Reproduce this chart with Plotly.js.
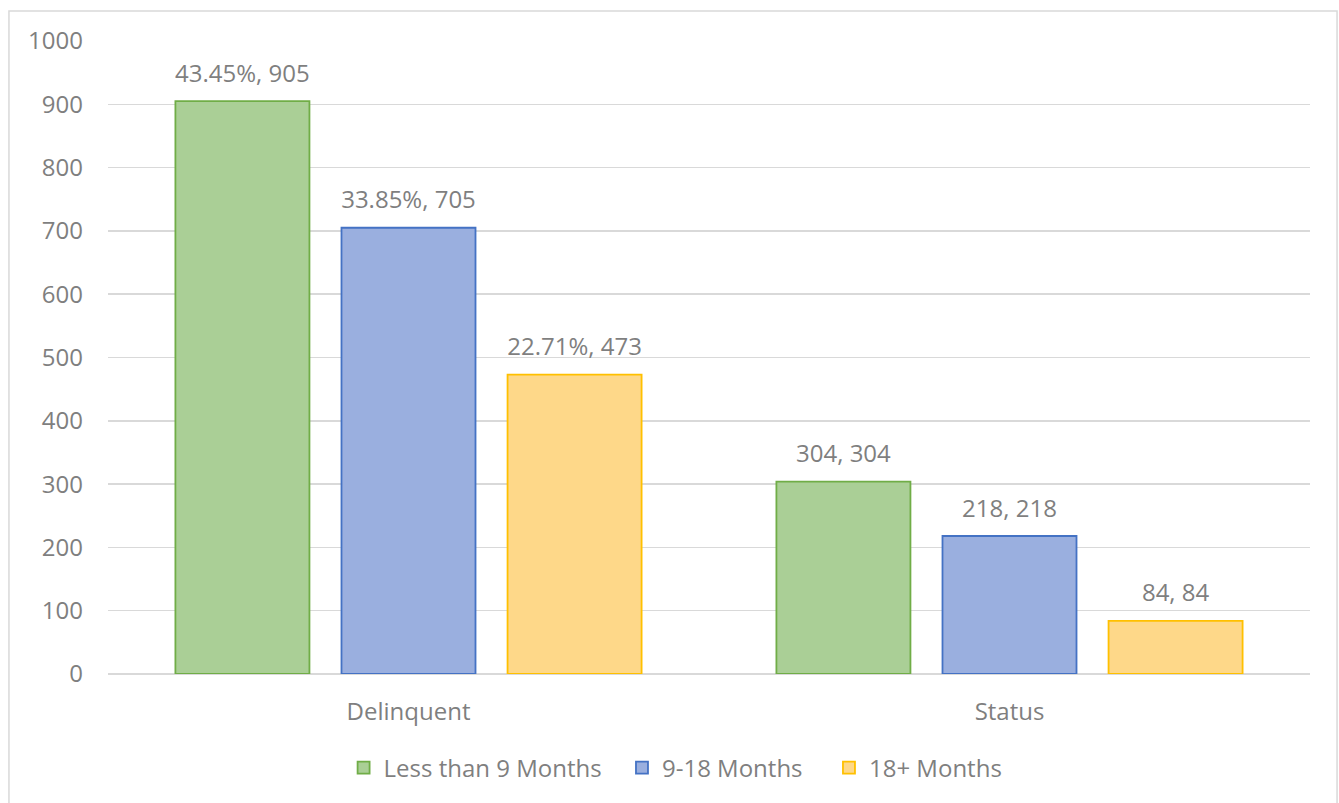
<!DOCTYPE html>
<html>
<head>
<meta charset="utf-8">
<script src="https://cdn.plot.ly/plotly-3.0.1.min.js"></script>
<style>html,body{margin:0;padding:0;background:#fff;} #chart{width:1339px;height:803px;}</style>
</head>
<body>
<div id="chart"></div>
<script>
const categories = ["Delinquent", "Status"];
const seriesNames = ["Less than 9 Months", "9-18 Months", "18+ Months"];
const lessThan9 = [905, 304];
const nineTo18 = [705, 218];
const over18 = [473, 84];
const lessThan9Labels = ["43.45%, 905", "304, 304"];
const nineTo18Labels = ["33.85%, 705", "218, 218"];
const over18Labels = ["22.71%, 473", "84, 84"];
const yTicks = [0, 100, 200, 300, 400, 500, 600, 700, 800, 900, 1000];

const fills = ["#aacf96", "#9aafdf", "#fed889"];
const borders = ["#70ad47", "#4472c4", "#ffc000"];
const values = [lessThan9, nineTo18, over18];
const labels = [lessThan9Labels, nineTo18Labels, over18Labels];
const legendIds = ["legend", "legend2", "legend3"];
const legendX = [0.196, 0.4276, 0.5998];
const fontFam = "Open Sans, Liberation Sans, sans-serif";
const txtColor = "#7f7f7f";

const barTraces = seriesNames.map((name, i) => ({
  type: "bar",
  name: name,
  x: categories,
  y: values[i],
  offsetgroup: String(i),
  legend: legendIds[i],
  marker: {color: fills[i], line: {color: borders[i], width: 1.8}},
  hoverinfo: "none"
}));

const labelTraces = seriesNames.map((name, i) => ({
  type: "scatter",
  mode: "markers+text",
  name: name + " labels",
  x: categories,
  y: values[i],
  offsetgroup: String(i),
  text: labels[i],
  textposition: "top center",
  cliponaxis: false,
  marker: {size: 20, opacity: 0, color: "rgba(0,0,0,0)"},
  textfont: {family: fontFam, size: 24, color: txtColor},
  showlegend: false,
  hoverinfo: "none"
}));

const legendBase = (x) => ({
  orientation: "h", x: x, xanchor: "left", y: -0.1485, yanchor: "middle",
  font: {family: fontFam, size: 24, color: txtColor},
  itemwidth: 30, bgcolor: "rgba(0,0,0,0)"
});

const layout = {
  width: 1339, height: 803,
  margin: {l: 108, r: 29, t: 41, b: 129},
  paper_bgcolor: "#ffffff",
  plot_bgcolor: "#ffffff",
  barmode: "group",
  scattermode: "group",
  bargap: 0.171,
  scattergap: 0.171,
  bargroupgap: 0.193,
  font: {family: fontFam, color: txtColor, size: 24},
  showlegend: true,
  legend: legendBase(legendX[0]),
  legend2: legendBase(legendX[1]),
  legend3: legendBase(legendX[2]),
  xaxis: {
    showgrid: false, showline: false, zeroline: false,
    ticks: "", tickfont: {family: fontFam, size: 24, color: txtColor},
    ticklabelstandoff: 21
  },
  yaxis: {
    range: [0, 1000], tickvals: yTicks, ticktext: yTicks.map(String),
    showgrid: true, gridcolor: "#d9d9d9", gridwidth: 1.5,
    zeroline: true, zerolinecolor: "#d9d9d9", zerolinewidth: 1.5,
    showline: false, ticks: "",
    tickfont: {family: fontFam, size: 24, color: txtColor},
    ticklabelstandoff: 24
  },
  shapes: [{
    type: "rect", xref: "paper", yref: "paper",
    x0: -0.0824, x1: 1.0225, y0: -0.21, y1: 1.0474,
    line: {color: "#d9d9d9", width: 1.5}, fillcolor: "rgba(0,0,0,0)", layer: "below"
  }]
};

Plotly.newPlot("chart", barTraces.concat(labelTraces), layout, {displayModeBar: false, staticPlot: true});
</script>
</body>
</html>
